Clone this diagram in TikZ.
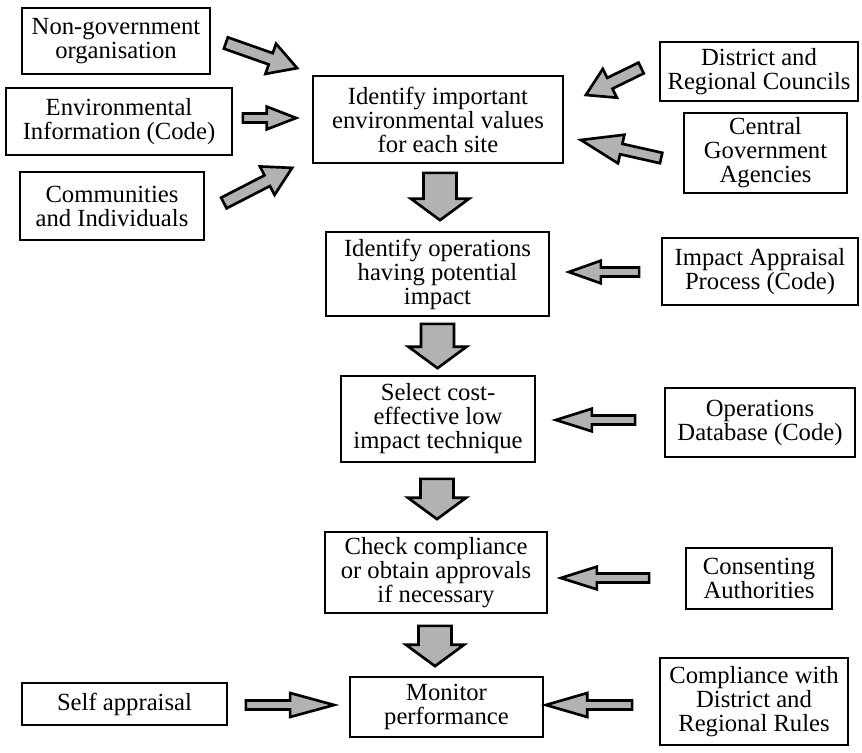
\documentclass[tikz,border=0pt]{standalone}
\usepackage{fontspec}
\setmainfont{Liberation Serif}
\usepackage{tikz}
\usetikzlibrary{calc}
\usetikzlibrary{positioning}

\tikzset{
	box/.style={draw,line width=1.3pt,align=center,inner sep=1pt,font=\fontsize{18.5}{18}\selectfont},
	arrow shaft/.store in=\arrowshaft,
	arrow head/.store in=\arrowhead,
	arrow len/.store in=\arrowlen,
	arrow shaft=3.4pt, arrow head=8.5pt, arrow len=24pt,
	vert/.style={arrow shaft=12.4pt,arrow head=21.75pt,arrow len=16pt},
	diag/.style={arrow shaft=4.5pt,arrow head=12pt,arrow len=21pt},
	blockarrow/.style={draw=black,line width=2pt,fill=gray!60,line join=miter}
}

% block arrow from #2 (tail) to #3 (tip)
\newcommand{\bigarrow}[3][]{%
	\begin{scope}[#1]
	\coordinate (ba-a) at #2;
	\coordinate (ba-b) at #3;
	\coordinate (ba-h) at ($(ba-b)!\arrowlen!(ba-a)$);
	\draw[blockarrow] ($(ba-a)!\arrowshaft!90:(ba-b)$) -- ($(ba-h)!\arrowshaft!-90:(ba-a)$)
		-- ($(ba-h)!\arrowhead!-90:(ba-a)$) -- (ba-b) -- ($(ba-h)!\arrowhead!90:(ba-a)$)
		-- ($(ba-h)!\arrowshaft!90:(ba-a)$) -- ($(ba-a)!\arrowshaft!-90:(ba-b)$) -- cycle;
	\end{scope}}

\begin{document}
\begin{tikzpicture}[x=0.75pt,y=-0.75pt]
	\useasboundingbox (0,0) rectangle (862,752);
	
	% main column
	\node[box,minimum width=187.5pt,minimum height=65.25pt] (values) at (438,119.5) {Identify important\\environmental values\\for each site};
	\node[box,minimum width=167.25pt,minimum height=63pt] (ops) at (437.5,274) {Identify operations\\having potential\\impact};
	\node[box,minimum width=145.5pt,minimum height=64.5pt] (select) at (438,419) {Select cost-\\effective low\\impact technique};
	\node[box,minimum width=166.5pt,minimum height=60.75pt] (check) at (436,572.5) {Check compliance\\or obtain approvals\\if necessary};
	\node[box,minimum width=144.75pt,minimum height=45pt] (monitor) at (446.5,707) {Monitor\\performance};
	
	% left inputs
	\node[box,minimum width=141pt,minimum height=49.5pt] (ngo) at (116,41) {Non-government\\organisation};
	\node[box,minimum width=169.5pt,minimum height=50.25pt] (env) at (119,121.5) {Environmental\\Information (Code)};
	\node[box,minimum width=138pt,minimum height=51pt] (comm) at (112,206) {Communities\\and Individuals};
	\node[box,minimum width=153.75pt,minimum height=31.5pt] (self) at (124.5,704) {Self appraisal};
	
	% right inputs
	\node[box,minimum width=148.5pt,minimum height=44.25pt] (district) at (759,71.5) {District and\\Regional Councils};
	\node[box,minimum width=122.25pt,minimum height=60pt] (central) at (765.5,153) {Central\\Government\\Agencies};
	\node[box,minimum width=147pt,minimum height=50.25pt] (impact) at (760,271.5) {Impact Appraisal\\Process (Code)};
	\node[box,minimum width=142.5pt,minimum height=51.75pt] (opsdb) at (760,422.5) {Operations\\Database (Code)};
	\node[box,minimum width=109.5pt,minimum height=45.75pt] (consent) at (759,578.5) {Consenting\\Authorities};
	\node[box,minimum width=141pt,minimum height=65.25pt] (rules) at (754,701.5) {Compliance with\\District and\\Regional Rules};
	
	% down the column
	\bigarrow[vert]{($(values.south)+(2,9)$)}{($(ops.north)+(2.5,-11)$)}
	\bigarrow[vert]{($(ops.south)+(0,7)$)}{($(select.north)+(-0.5,-7)$)}
	\bigarrow[vert]{($(select.south)+(-1,16)$)}{($(check.north)+(1,-12)$)}
	\bigarrow[vert]{($(check.south)+(-1,12)$)}{($(monitor.north)+(-11.5,-10)$)}
	
	% from the left
	\bigarrow[diag]{($(ngo.east)+(15,2)$)}{($(values.north west)+(-15,-7)$)}
	\bigarrow[arrow len=22pt]{($(env.east)+(10,-3.5)$)}{($(values.west)+(-16,-1.5)$)}
	\bigarrow[diag]{($(comm.east)+(19,-3)$)}{($(values.south west)+(-20,4)$)}
	\bigarrow[arrow len=33pt,arrow head=9pt]{($(self.east)+(18,1)$)}{($(monitor.west)+(-15,-2)$)}
	
	% from the right
	\bigarrow[diag,arrow len=20pt]{($(district.west)+(-18,-3.5)$)}{($(values.east)+(22,-24.5)$)}
	\bigarrow[arrow len=31pt,arrow shaft=4pt,arrow head=11pt]{($(central.west)+(-22,5)$)}{($(values.east)+(17,20.5)$)}
	\bigarrow[arrow len=24pt]{($(impact.west)+(-22,0.5)$)}{($(ops.east)+(19,-2)$)}
	\bigarrow[arrow len=27pt]{($(opsdb.west)+(-29,-2.5)$)}{($(select.east)+(20,1)$)}
	\bigarrow[arrow len=27pt]{($(consent.west)+(-36,-0.5)$)}{($(check.east)+(13,5.5)$)}
	\bigarrow[arrow len=31pt,arrow head=9pt]{($(rules.west)+(-27,3.5)$)}{($(monitor.east)+(2,-2)$)}
	
\end{tikzpicture}
\end{document}
